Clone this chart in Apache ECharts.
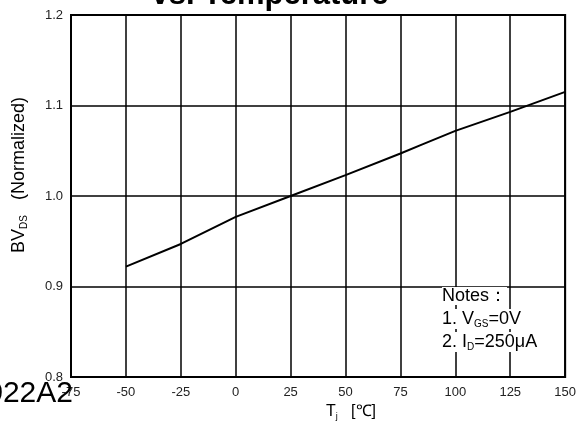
<!DOCTYPE html>
<html>
<head>
<meta charset="utf-8">
<script src="https://cdn.jsdelivr.net/npm/echarts@6/dist/echarts.min.js"></script>
<style>html,body{margin:0;padding:0;background:#fff}#c{width:579px;height:429px}</style>
</head>
<body>
<div id="c"></div>
<script>
// Data
const tempC = [-50, -25, 0, 25, 50, 75, 85, 100, 125, 150];
const bvdsNorm = [0.922, 0.947, 0.977, 1.000, 1.023, 1.047, 1.057, 1.072, 1.093, 1.115];
const xTicks = [-75, -50, -25, 0, 25, 50, 75, 100, 125, 150];
const yTicks = [0.8, 0.9, 1.0, 1.1, 1.2];
const titleText = 'vs. Temperature';
const partLabel = '022A2';
const notes = ['Notes\uFF1A', '1. V{s|GS}=0V', '2. I{s|D}=250\u03BCA'];

const chart = echarts.init(document.getElementById('c'), null, {renderer: 'canvas'});
const FONT = 'Liberation Sans, Arial, sans-serif';
const sub = {s: {fontSize: 10, fontFamily: FONT, color: '#000', padding: [10, 0, 0, 0]}};
const subSmall = {s: {fontSize: 9, fontFamily: FONT, color: '#000', padding: [9, 0, 0, 0]}};

chart.setOption({
  animation: false,
  backgroundColor: '#fff',
  grid: {left: 71, right: 9, top: 15, bottom: 52, show: true, borderColor: '#000', borderWidth: 2, containLabel: false},
  xAxis: {
    type: 'value', min: xTicks[0], max: xTicks[xTicks.length - 1], interval: 25,
    axisLine: {show: true, onZero: false, lineStyle: {color: '#000', width: 2}},
    axisTick: {show: false},
    splitLine: {show: true, lineStyle: {color: '#000', width: 1.5}},
    axisLabel: {color: '#222', fontSize: 13, fontFamily: FONT, margin: 9,
      formatter: v => xTicks.includes(v) ? String(v) : ''}
  },
  yAxis: {
    type: 'value', min: yTicks[0], max: yTicks[yTicks.length - 1], interval: 0.1,
    axisLine: {show: true, onZero: false, lineStyle: {color: '#000', width: 2}},
    axisTick: {show: false},
    splitLine: {show: true, lineStyle: {color: '#000', width: 1.5}},
    axisLabel: {color: '#222', fontSize: 13, fontFamily: FONT, margin: 8,
      formatter: v => v.toFixed(1)}
  },
  series: [{
    type: 'line', data: tempC.map((t, i) => [t, bvdsNorm[i]]),
    showSymbol: false, symbol: 'none',
    lineStyle: {color: '#000', width: 2}, z: 5
  }],
  graphic: [
    {type: 'text', x: 270, y: -5, z: 10, style: {text: titleText, font: 'bold 31px ' + FONT, fill: '#000', align: 'center', verticalAlign: 'middle'}},
    {type: 'text', x: 73, y: 394, z: 10, style: {text: partLabel, font: '30px ' + FONT, fill: '#000', align: 'right', verticalAlign: 'middle'}},
    {type: 'text', x: 19, y: 175, rotation: Math.PI / 2, z: 10, style: {text: 'BV{s|DS}   (Normalized)', fontSize: 18, fontFamily: FONT, fill: '#000', align: 'center', verticalAlign: 'middle', rich: sub}},
    {type: 'text', x: 351, y: 412, z: 10, style: {text: 'T{s|j}   [\u2103]', fontSize: 16, fontFamily: FONT, fill: '#000', align: 'center', verticalAlign: 'middle', rich: subSmall}},
    {type: 'text', x: 442, y: 296, z: 10, style: {text: notes[0], fontSize: 18, fontFamily: FONT, fill: '#000', backgroundColor: '#fff', align: 'left', verticalAlign: 'middle', rich: sub}},
    {type: 'text', x: 442, y: 319, z: 10, style: {text: notes[1], fontSize: 18, fontFamily: FONT, fill: '#000', backgroundColor: '#fff', align: 'left', verticalAlign: 'middle', rich: sub}},
    {type: 'text', x: 442, y: 342, z: 10, style: {text: notes[2], fontSize: 18, fontFamily: FONT, fill: '#000', backgroundColor: '#fff', align: 'left', verticalAlign: 'middle', rich: sub}}
  ]
});
</script>
</body>
</html>
